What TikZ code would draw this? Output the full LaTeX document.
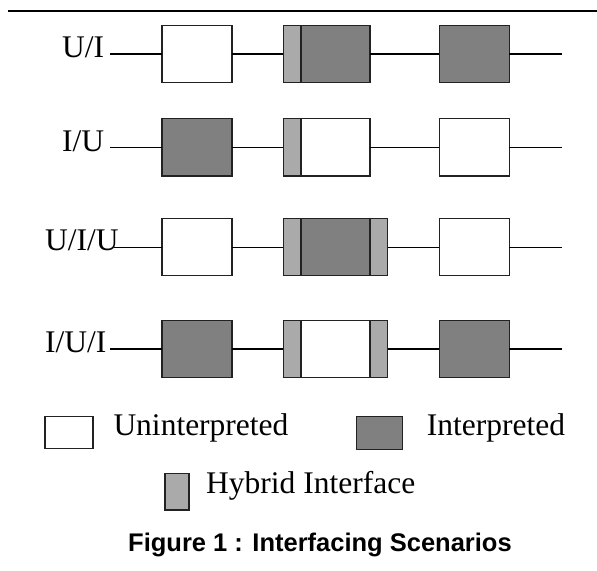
\documentclass[tikz,border=0pt]{standalone}
\usepackage{fontspec}
\setmainfont{Liberation Serif}
\newfontfamily\capfont{Liberation Sans}
\definecolor{darkfill}{HTML}{808080}
\definecolor{lightfill}{HTML}{AAAAAA}
\definecolor{edgecol}{HTML}{222222}
\begin{document}
\begin{tikzpicture}[x=1bp,y=-1bp,
  blk/.style={draw=edgecol, line width=1.4bp, inner sep=0pt, outer sep=0pt, minimum height=57bp, anchor=west},
  ubox/.style={blk, fill=white, minimum width=70bp},
  ibox/.style={blk, fill=darkfill, minimum width=70bp},
  hbox/.style={blk, fill=lightfill, minimum width=17.5bp},
  wire/.style={line width=1.2bp, black},
  lbl/.style={font=\fontsize{31.5bp}{36bp}\selectfont, inner sep=0pt, anchor=base west},
  leg/.style={draw=edgecol, line width=1.4bp, inner sep=0pt, outer sep=0pt, anchor=north west}]
\useasboundingbox (0,0) rectangle (597,571);
% top rule
\coordinate (r0) at (8,11);
\coordinate (r1) at (597,11);
\draw[line width=1.3bp] (r0) -- (r1);

% Row 1: U/I
\node[lbl] (l1) at (62,57.3) {U/I};
\coordinate (s1) at (110,54);
\node[ubox] (a1) at (162,54) {};
\node[hbox] (h1) at (283.3,54) {};
\node[ibox, minimum width=69.3bp] (m1) at (h1.east) {};
\node[ibox] (c1) at (439.3,54) {};
\coordinate (e1) at (561.7,54);
\draw[wire] (s1) -- (a1.west) (a1.east) -- (h1.west) (m1.east) -- (c1.west) (c1.east) -- (e1);

% Row 2: I/U
\node[lbl] (l2) at (62,151.7) {I/U};
\coordinate (s2) at (110,147.3);
\node[ibox] (a2) at (162,147.3) {};
\node[hbox] (h2) at (283.3,147.3) {};
\node[ubox, minimum width=69.3bp] (m2) at (h2.east) {};
\node[ubox] (c2) at (439.3,147.3) {};
\coordinate (e2) at (561.7,147.3);
\draw[wire] (s2) -- (a2.west) (a2.east) -- (h2.west) (m2.east) -- (c2.west) (c2.east) -- (e2);

% Row 3: U/I/U
\node[lbl] (l3) at (45,250.7) {U/I/U};
\coordinate (s3) at (114,247.2);
\node[ubox] (a3) at (162,247.2) {};
\node[hbox] (h3) at (283.3,247.2) {};
\node[ibox, minimum width=69.3bp] (m3) at (h3.east) {};
\node[hbox] (k3) at (m3.east) {};
\node[ubox] (c3) at (439.3,247.2) {};
\coordinate (e3) at (561.7,247.2);
\draw[wire] (s3) -- (a3.west) (a3.east) -- (h3.west) (k3.east) -- (c3.west) (c3.east) -- (e3);

% Row 4: I/U/I
\node[lbl] (l4) at (45,352.7) {I/U/I};
\coordinate (s4) at (110,349);
\node[ibox] (a4) at (162,349) {};
\node[hbox] (h4) at (283.3,349) {};
\node[ubox, minimum width=69.3bp] (m4) at (h4.east) {};
\node[hbox] (k4) at (m4.east) {};
\node[ibox] (c4) at (439.3,349) {};
\coordinate (e4) at (561.7,349);
\draw[wire] (s4) -- (a4.west) (a4.east) -- (h4.west) (k4.east) -- (c4.west) (c4.east) -- (e4);

% Legend
\node[leg, fill=white, minimum width=48bp, minimum height=32bp] (lu) at (45,416.3) {};
\node[lbl] (tu) at (113.3,435) {Uninterpreted};
\node[leg, fill=darkfill, minimum width=46bp, minimum height=33bp] (li) at (356.7,416.7) {};
\node[lbl] (ti) at (426.7,435) {Interpreted};
\node[leg, fill=lightfill, minimum width=24bp, minimum height=36.5bp] (lh) at (165,473.3) {};
\node[lbl] (th) at (206,493.3) {Hybrid Interface};

% Caption
\node[anchor=base west, inner sep=0pt, font=\capfont\bfseries\fontsize{25.5bp}{30bp}\selectfont] (cap) at (128,551.7) {Figure 1 : Interfacing Scenarios};
\end{tikzpicture}
\end{document}
